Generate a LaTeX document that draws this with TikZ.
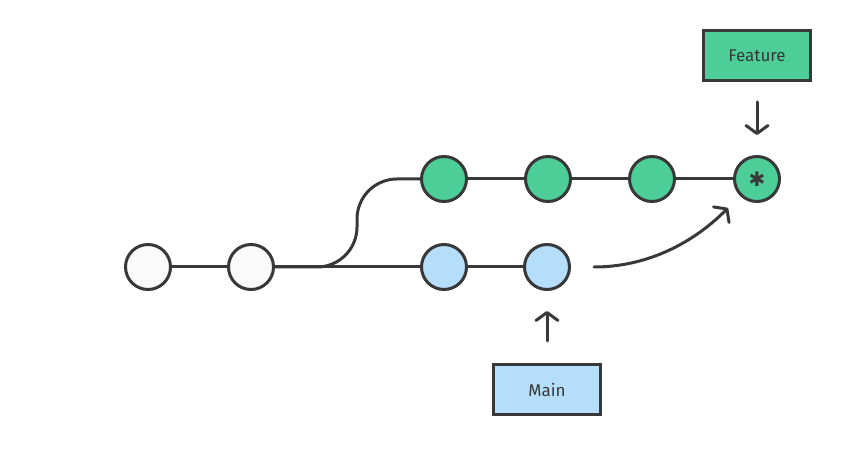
\documentclass[tikz,border=0pt]{standalone}
\usepackage{fontspec}
\setmainfont{Fira Sans}
\newfontfamily\symfont{DejaVu Sans}
\usepackage{xcolor}
\usetikzlibrary{positioning, arrows.meta}
\definecolor{inkgray}{HTML}{383838}
\definecolor{featgreen}{HTML}{4DCE98}
\definecolor{mainblue}{HTML}{B5DEFA}
\definecolor{basewhite}{HTML}{FAFAFA}
\tikzset{
  commit/.style={circle, draw=inkgray, line width=3pt, minimum size=45pt, inner sep=0pt},
  basecommit/.style={commit, fill=basewhite},
  maincommit/.style={commit, fill=mainblue},
  featcommit/.style={commit, fill=featgreen},
  branchlabel/.style={rectangle, draw=inkgray, line width=3pt, minimum width=107pt, minimum height=50pt, text=inkgray, font=\fontsize{17}{19}\selectfont},
  link/.style={draw=inkgray, line width=3pt},
  pointer/.style={link, line cap=round, -{Straight Barb[length=8pt, width=22pt, round]}},
}
\begin{document}
\begin{tikzpicture}[x=1pt, y=1pt, node distance=55pt]
        \useasboundingbox (0,0) rectangle (841,460);

        % Base commits
        \node[basecommit] (c1) at (148,193) {};
        \node[basecommit, right=of c1] (c2) {};

        % Main branch
        \node[maincommit, right=145pt of c2] (m1) {};
        \node[maincommit, right=of m1] (m2) {};

        % Feature branch
        \node[featcommit, above=40pt of m1] (f1) {};
        \node[featcommit, right=56pt of f1] (f2) {};
        \node[featcommit, right=56pt of f2] (f3) {};
        \node[featcommit, right=57pt of f3] (f4) {{\symfont\fontsize{20}{20}\selectfont\textcolor{inkgray}{✱}}};

        % Branch labels
        \node[branchlabel, fill=featgreen, above=73pt of f4] (feature) {Feature};
        \node[branchlabel, fill=mainblue, below=72pt of m2] (main) {Main};

        % Connections
        \draw[link] (c1) -- (c2);
        \draw[link] (c2) -- (m1);
        \draw[link] (m1) -- (m2);
        \draw[link, rounded corners=40pt] (c2.east) -| ([xshift=-87pt]f1.center) -- (f1.west);
        \draw[link] (f1) -- (f2);
        \draw[link] (f2) -- (f3);
        \draw[link] (f3) -- (f4);

        % Pointers
        \draw[pointer, shorten <=20pt, shorten >=20pt] (feature) -- (f4);
        \draw[pointer, shorten <=22pt, shorten >=20pt] (main) -- (m2);
        \draw[pointer, shorten <=23pt, shorten >=17pt] (m2) to[out=0, in=225] (f4);
\end{tikzpicture}
\end{document}
